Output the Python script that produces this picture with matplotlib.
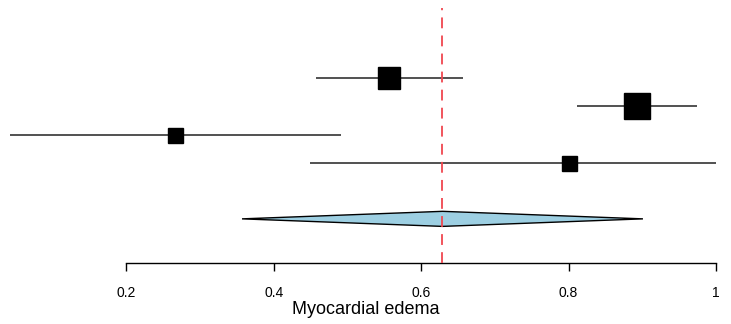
import matplotlib
matplotlib.use("Agg")
import matplotlib.pyplot as plt
from matplotlib.patches import Polygon

# data
estimates = [0.557, 0.893, 0.266, 0.800]
ci_lower = [0.457, 0.812, 0.042, 0.449]
ci_upper = [0.657, 0.974, 0.491, 1.000]
weights = [22, 26, 15, 15]          # relative box size
pooled_est = 0.629
pooled_lower = 0.357
pooled_upper = 0.901
xticks = [0.2, 0.4, 0.6, 0.8, 1.0]
xticklabels = ["0.2", "0.4", "0.6", "0.8", "1"]
xlabel = "Myocardial edema"

plt.rcParams['font.family'] = ['Liberation Sans', 'DejaVu Sans']

W, H = 731, 324
fig = plt.figure(figsize=(W / 100, H / 100), dpi=100)
# axes: x spans full width, y from pixel 8 (top) to 263 (bottom axis)
ax = fig.add_axes([0, 1 - 263 / H, 1, (263 - 8) / H])

x_left = 0.2 - 126.3 / 737
x_right = 0.2 + (W - 126.3) / 737
ax.set_xlim(x_left, x_right)

rows = list(range(len(estimates)))
pooled_row = len(estimates) + 1
ax.set_ylim(6.57, -2.5)

for r, est, lo, hi, w in zip(rows, estimates, ci_lower, ci_upper, weights):
    ax.plot([lo, hi], [r, r], color="#222222", lw=1.1, solid_capstyle="butt", zorder=2)
    ax.plot([est], [r], marker="s", color="black", markersize=w * 0.72,
            markeredgecolor="black", zorder=3)

half_h = 7.5 / 28  # diamond half height in row units
diamond = Polygon([[pooled_lower, pooled_row], [pooled_est, pooled_row - half_h],
                   [pooled_upper, pooled_row], [pooled_est, pooled_row + half_h]],
                  closed=True, facecolor="#9dcfe2", edgecolor="black", lw=1.0, zorder=3)
ax.add_patch(diamond)

ax.axvline(pooled_est, color="#f0474f", lw=1.3, ls=(0, (6, 4)), zorder=4)

for s in ["top", "right", "left"]:
    ax.spines[s].set_visible(False)
ax.spines["bottom"].set_bounds(0.2, 1.0)
ax.spines["bottom"].set_linewidth(1.0)
ax.set_yticks([])
ax.set_xticks(xticks)
ax.set_xticklabels(xticklabels, fontsize=10)
ax.tick_params(axis="x", length=6, width=1.0, pad=10.5)
ax.patch.set_alpha(0)

fig.text(0.5, 1 - 310 / H, xlabel, ha="center", va="center", fontsize=13)

fig.savefig("out.png", dpi=100)
